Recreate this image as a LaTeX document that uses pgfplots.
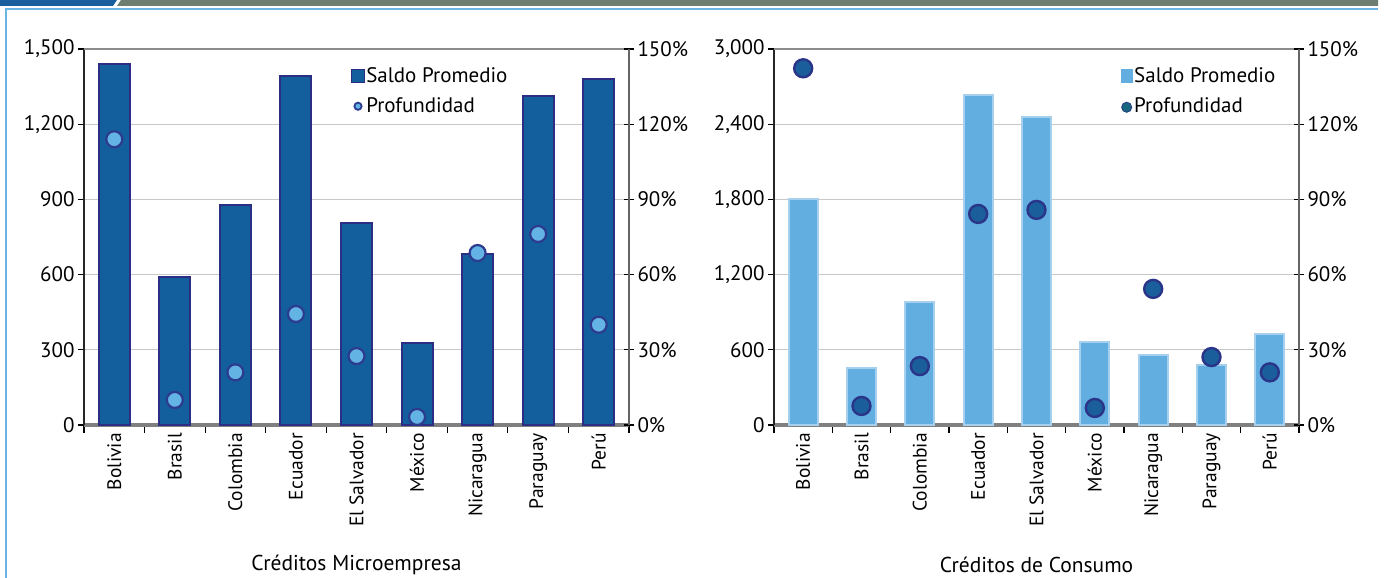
\documentclass[border=0pt]{standalone}
\usepackage{pgfplots}
\pgfplotsset{compat=1.18}
\usepackage{fontspec}
\setmainfont{PT Sans}
\definecolor{barL}{HTML}{135E9C}
\definecolor{barLedge}{HTML}{2B2E83}
\definecolor{mkL}{HTML}{63B3E5}
\definecolor{mkLedge}{HTML}{2D3B8E}
\definecolor{barR}{HTML}{62AEE0}
\definecolor{barRedge}{HTML}{A6D0EE}
\definecolor{mkR}{HTML}{1A5F9B}
\definecolor{mkRedge}{HTML}{2A3488}
\definecolor{legR}{HTML}{17687F}
\definecolor{topblue}{HTML}{1B5E9E}
\definecolor{topgray}{HTML}{6D7D72}
\definecolor{lineblue}{HTML}{6CB4E4}
\definecolor{gridc}{HTML}{C8C8C8}
\definecolor{topc}{HTML}{8C8C8C}
\definecolor{botc}{HTML}{808080}

\pgfplotsset{
  base/.style={scale only axis, anchor=south west, height=376bp,
    xmin=-0.5, xmax=8.5, clip=false,
    /pgf/number format/assume math mode=true,
    /pgf/number format/1000 sep={,},
    yticklabel style={font=\fontsize{21bp}{25bp}\selectfont},
    tick align=outside,
  },
  bars/.style={base,
    axis x line*=bottom, axis y line*=left,
    x axis line style={draw=botc, line width=3bp, -},
    y axis line style={draw=black!85, line width=1.6bp, -},
    ymajorgrids, grid style={draw=gridc, line width=1bp},
    xtick={0,...,8},
    xticklabels={Bolivia,Brasil,Colombia,Ecuador,El Salvador,México,Nicaragua,Paraguay,Perú},
    xticklabel style={rotate=90, anchor=east, font=\fontsize{19.5bp}{22bp}\selectfont, inner sep=2bp},
    major x tick style={draw=none},
    minor xtick={-0.5,0.5,...,8.5},
    minor tick length=8bp,
    minor x tick style={draw=black, line width=1.2bp},
    major tick length=6bp,
    ytick style={draw=black, line width=1.2bp},
    xlabel style={at={(axis description cs:0.5,-0.373)}, anchor=center, font=\fontsize{21.5bp}{25bp}\selectfont},
  },
  pct/.style={base,
    ymin=0, ymax=150, ytick={0,30,...,150},
    axis y line*=right, axis x line=none,
    y axis line style={draw=black!60, line width=1.6bp, -},
    yticklabel={\pgfmathprintnumber{\tick}\%},
    tick align=center, major tick length=10bp,
    ytick style={draw=black, line width=1.2bp},
    legend style={anchor=north west, draw=none, fill=none,
      font=\fontsize{21bp}{25bp}\selectfont, row sep=11bp, inner sep=0pt,
      nodes={inner sep=1.5bp}},
    legend cell align=left,
  },
}

\begin{document}
\begin{tikzpicture}
\path[use as bounding box] (0,0) rectangle (1387bp,578bp);
\fill[white] (0,0) rectangle (1387bp,578bp);
% frame
\fill[topblue] (0,572bp) -- (113bp,572bp) -- (117bp,578bp) -- (0,578bp) -- cycle;
\fill[topgray] (117bp,572bp) -- (1378bp,572bp) -- (1378bp,578bp) -- (121bp,578bp) -- cycle;
\fill[lineblue] (5bp,568bp) rectangle (1378bp,570bp);
\fill[lineblue] (5bp,0) rectangle (7bp,570bp);

% ---------- Left chart ----------
\begin{axis}[bars, at={(84bp,153bp)}, width=545bp,
  ymin=0, ymax=1500, ytick={0,300,...,1500},
  xlabel={Créditos Microempresa}]
\draw[topc, line width=2bp] (rel axis cs:0,1) -- (rel axis cs:1,1);
\addplot[ybar, bar width=31bp, fill=barL, draw=barLedge, line width=2bp]
  coordinates {(0,1440) (1,592) (2,878) (3,1392) (4,806) (5,327) (6,684) (7,1312) (8,1380)};
\end{axis}
\begin{axis}[pct, at={(84bp,153bp)}, width=545bp,
  legend style={at={(0.49,0.955)}}]
\addlegendimage{legend image code/.code={\draw[fill=barL,draw=barLedge,line width=1bp] (0bp,-6.3bp) rectangle (12.5bp,6.3bp);}}
\addlegendentry{Saldo Promedio}
\addplot[only marks, mark=*, mark size=8bp, mark options={fill=mkL, draw=mkLedge, line width=2.2bp},
  legend image code/.code={\draw[fill=mkL,draw=mkLedge,line width=1.8bp] (6.25bp,0) circle (3.6bp);}]
  coordinates {(0,114) (1,10) (2,21) (3,44.3) (4,27.5) (5,3.2) (6,68.6) (7,76.2) (8,40)};
\addlegendentry{Profundidad}
\end{axis}

% ---------- Right chart ----------
\begin{axis}[bars, at={(774bp,153bp)}, width=525bp,
  ymin=0, ymax=3000, ytick={0,600,...,3000},
  xlabel={Créditos de Consumo}]
\draw[topc, line width=2bp] (rel axis cs:0,1) -- (rel axis cs:1,1);
\addplot[ybar, bar width=29bp, fill=barR, draw=barRedge, line width=2bp]
  coordinates {(0,1800) (1,455) (2,981) (3,2633) (4,2458) (5,662) (6,559) (7,479) (8,726)};
\end{axis}
\begin{axis}[pct, at={(774bp,153bp)}, width=525bp,
  legend style={at={(0.66,0.955)}}]
\addlegendimage{legend image code/.code={\draw[fill=barR,draw=barR,line width=0.5bp] (0bp,-6.3bp) rectangle (11.5bp,6.3bp);}}
\addlegendentry{Saldo Promedio}
\addplot[only marks, mark=*, mark size=9bp, mark options={fill=mkR, draw=mkRedge, line width=2.4bp},
  legend image code/.code={\draw[fill=legR,draw=mkRedge!70!legR,line width=1bp] (5.75bp,-1bp) circle (5bp);}]
  coordinates {(0,142.3) (1,7.6) (2,23.5) (3,84.2) (4,85.8) (5,6.8) (6,54.3) (7,27.1) (8,21)};
\addlegendentry{Profundidad}
\end{axis}
\end{tikzpicture}
\end{document}
